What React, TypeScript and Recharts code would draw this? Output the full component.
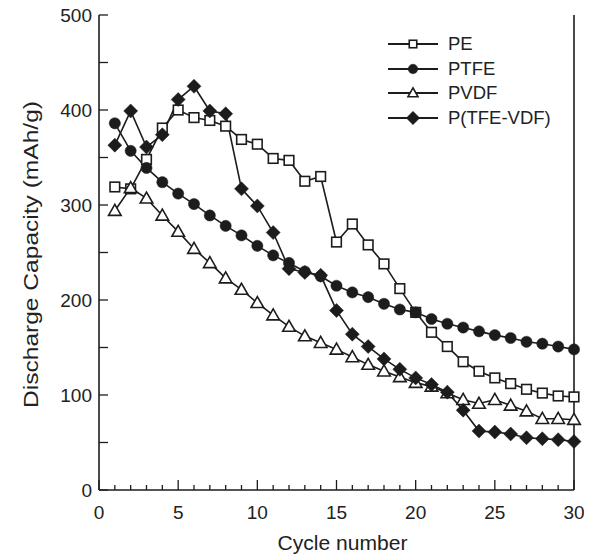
import React from 'react';
import { LineChart, Line, XAxis, YAxis, ReferenceLine } from 'recharts';

const cycles = [1, 2, 3, 4, 5, 6, 7, 8, 9, 10, 11, 12, 13, 14, 15, 16, 17, 18, 19, 20, 21, 22, 23, 24, 25, 26, 27, 28, 29, 30];
const pe = [319, 317, 348, 381, 400, 392, 389, 383, 369, 364, 349, 347, 325, 330, 261, 280, 258, 238, 212, 187, 166, 151, 135, 125, 118, 112, 106, 102, 99, 98];
const ptfe = [386, 357, 339, 324, 312, 301, 289, 278, 268, 257, 247, 239, 230, 225, 215, 208, 203, 196, 190, 187, 180, 175, 171, 167, 163, 160, 156, 154, 151, 148];
const pvdf = [294, 318, 307, 289, 272, 254, 239, 223, 211, 197, 184, 172, 162, 155, 148, 140, 132, 125, 119, 113, 109, 102, 95, 91, 95, 89, 83, 75, 75, 74];
const ptfeVdf = [363, 399, 361, 374, 411, 425, 399, 396, 317, 299, 271, 233, 229, 226, 189, 164, 151, 138, 127, 118, 111, 103, 84, 62, 61, 59, 55, 54, 53, 51];

const seriesNames = ['PE', 'PTFE', 'PVDF', 'P(TFE-VDF)'];
const xTicks = [0, 1, 2, 3, 4, 5, 6, 7, 8, 9, 10, 11, 12, 13, 14, 15, 16, 17, 18, 19, 20, 21, 22, 23, 24, 25, 26, 27, 28, 29, 30];
const yTicks = [0, 50, 100, 150, 200, 250, 300, 350, 400, 450, 500];
const xTitle = 'Cycle number';
const yTitle = 'Discharge Capacity (mAh/g)';

const data = cycles.map((c, i) => ({ cycle: c, pe: pe[i], ptfe: ptfe[i], pvdf: pvdf[i], ptfeVdf: ptfeVdf[i] }));

const INK = '#1c1c1c';
const FONT = '"Liberation Sans", Arial, Helvetica, sans-serif';

type Shape = 'square' | 'circle' | 'triangle' | 'diamond';

function marker(shape: Shape, cx: number, cy: number, s = 1, key?: string) {
  if (shape === 'square') {
    const h = 4.8 * s;
    return <rect key={key} x={cx - h} y={cy - h} width={2 * h} height={2 * h} fill="#fff" stroke={INK} strokeWidth={1.6} />;
  }
  if (shape === 'circle') {
    return <circle key={key} cx={cx} cy={cy} r={5.6 * s} fill={INK} stroke={INK} strokeWidth={0.5} />;
  }
  if (shape === 'triangle') {
    const w = 6.3 * s;
    return (
      <polygon
        key={key}
        points={`${cx},${cy - 6.3 * s} ${cx - w},${cy + 4.7 * s} ${cx + w},${cy + 4.7 * s}`}
        fill="#fff"
        stroke={INK}
        strokeWidth={1.6}
        strokeLinejoin="miter"
      />
    );
  }
  const d = 7 * s;
  return <polygon key={key} points={`${cx},${cy - d} ${cx + d},${cy} ${cx},${cy + d} ${cx - d},${cy}`} fill={INK} stroke={INK} strokeWidth={0.5} />;
}

const makeDot = (shape: Shape) => (props: any) => {
  const { cx, cy, index } = props;
  if (cx == null || cy == null) return <g key={`${shape}-${index}`} />;
  return marker(shape, cx, cy, 1, `${shape}-${index}`);
};

const XTick = (props: any) => {
  const { x, y, payload } = props;
  const major = payload.value % 5 === 0;
  return (
    <g>
      <line x1={x} x2={x} y1={y} y2={y - (major ? 10 : 5)} stroke={INK} strokeWidth={1.3} />
      {major && (
        <text x={x} y={y + 29} textAnchor="middle" fontSize={19} fill="#222" fontFamily={FONT}>
          {payload.value}
        </text>
      )}
    </g>
  );
};

const YTick = (props: any) => {
  const { x, y, payload } = props;
  const labeled = payload.value % 100 === 0;
  return (
    <g>
      <line x1={x} x2={x + 9} y1={y} y2={y} stroke={INK} strokeWidth={1.3} />
      {labeled && (
        <text x={x - 7} y={y} dy="0.36em" textAnchor="end" fontSize={19} fill="#222" fontFamily={FONT}>
          {payload.value}
        </text>
      )}
    </g>
  );
};

const YTitle = (props: any) => {
  const vb = props.viewBox || { x: 0, y: 0, width: 0, height: 0 };
  const cx = vb.x + 12;
  const cy = vb.y + vb.height / 2 + 2;
  return (
    <text
      x={cx}
      y={cy}
      transform={`rotate(-90 ${cx} ${cy})`}
      textAnchor="middle"
      dominantBaseline="central"
      fontSize={20}
      fill="#222"
      fontFamily={FONT}
      textLength={307}
      lengthAdjust="spacingAndGlyphs"
    >
      {yTitle}
    </text>
  );
};

const XTitle = (props: any) => {
  const vb = props.viewBox || { x: 0, y: 0, width: 0, height: 0 };
  const cx = vb.x + vb.width / 2 + 6;
  return (
    <text x={cx} y={vb.y + 60} textAnchor="middle" fontSize={20} fill="#222" fontFamily={FONT} textLength={130} lengthAdjust="spacingAndGlyphs">
      {xTitle}
    </text>
  );
};

const legendShapes: Shape[] = ['square', 'circle', 'triangle', 'diamond'];
const legendScale = [0.78, 0.85, 0.8, 0.95];

const LegendBox = () => (
  <div style={{ position: 'absolute', left: 380, top: 32, fontFamily: FONT }}>
    {seriesNames.map((name, i) => (
      <div key={name} style={{ display: 'flex', alignItems: 'center', height: 24.5 }}>
        <svg width={50} height={24} style={{ display: 'block' }}>
          <line x1={0} x2={50} y1={12} y2={12} stroke={INK} strokeWidth={1.8} />
          {marker(legendShapes[i], 25, 12, legendScale[i])}
        </svg>
        <span style={{ marginLeft: 10, fontSize: 18.5, color: '#222', lineHeight: '24px' }}>{name}</span>
      </div>
    ))}
  </div>
);

export default function App() {
  return (
    <div style={{ position: 'relative', width: 584, height: 556, marginTop: -8 }}>
      <LineChart width={584} height={556} data={data} margin={{ top: 15, right: 18, left: 11, bottom: 0 }}>
        <XAxis
          dataKey="cycle"
          type="number"
          domain={[0, 30]}
          ticks={xTicks}
          interval={0}
          tickLine={false}
          tickSize={0}
          tickMargin={0}
          axisLine={{ stroke: INK, strokeWidth: 1.6 }}
          tick={<XTick />}
          height={66}
          label={{ content: <XTitle /> }}
        />
        <YAxis
          type="number"
          domain={[0, 500]}
          ticks={yTicks}
          interval={0}
          tickLine={false}
          tickSize={0}
          tickMargin={0}
          axisLine={{ stroke: INK, strokeWidth: 1.6 }}
          tick={<YTick />}
          width={80}
          label={{ content: <YTitle /> }}
        />
        <ReferenceLine x={30} stroke={INK} strokeWidth={1.6} />
        <Line dataKey="pe" stroke={INK} strokeWidth={1.6} dot={makeDot('square')} isAnimationActive={false} />
        <Line dataKey="ptfe" stroke={INK} strokeWidth={1.6} dot={makeDot('circle')} isAnimationActive={false} />
        <Line dataKey="pvdf" stroke={INK} strokeWidth={1.6} dot={makeDot('triangle')} isAnimationActive={false} />
        <Line dataKey="ptfeVdf" stroke={INK} strokeWidth={1.6} dot={makeDot('diamond')} isAnimationActive={false} />
      </LineChart>
      <LegendBox />
    </div>
  );
}
